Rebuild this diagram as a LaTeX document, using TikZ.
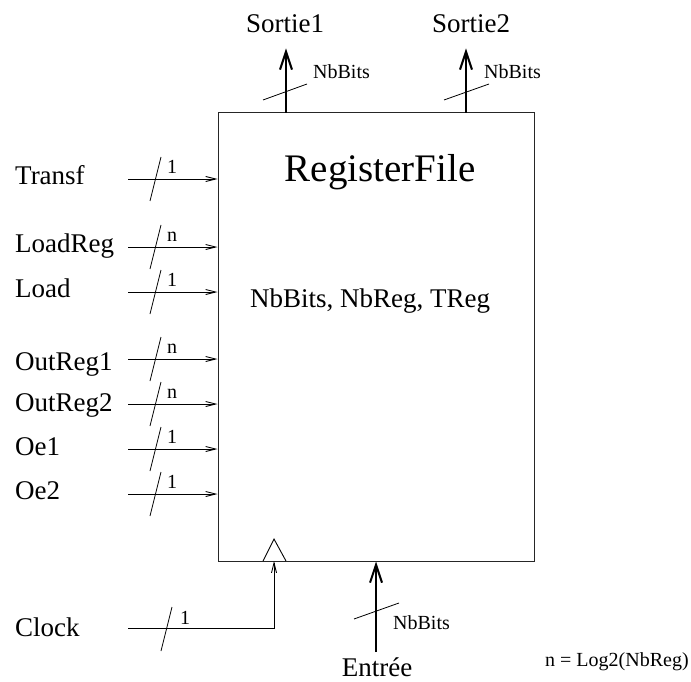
\documentclass[tikz,border=0pt]{standalone}
\usepackage{fontspec}
\setmainfont{Liberation Serif}
\usetikzlibrary{arrows.meta}

\begin{document}
\begin{tikzpicture}[x=1pt,y=-1pt,
  sig/.style={font=\fontsize{27}{30}\selectfont, inner sep=0pt},
  bits/.style={font=\fontsize{20}{22}\selectfont, inner sep=0pt},
  wide/.style={font=\fontsize{20}{22}\selectfont, inner sep=0pt},
  thin/.style={line width=0.9pt,-{Straight Barb[length=10pt,width=5pt]}},
  bus/.style={line width=2pt,-{Straight Barb[length=18pt,width=12pt]}},
  cut/.style={line width=0.8pt}]
  \useasboundingbox (0,0) rectangle (691,682);
  \node[draw=black!85, line width=1pt, minimum width=316pt, minimum height=448pt, inner sep=0pt] (rf) at (376,337) {};
  \node[font=\fontsize{39}{42}\selectfont, inner sep=0pt, anchor=base] (title) at (380,182) {RegisterFile};
  \node[sig, anchor=base west] (params) at (250,307) {NbBits, NbReg, TReg};

  \foreach \name/\txt/\y/\b/\w in {transf/Transf/179/185/1, loadreg/LoadReg/247/252/n, load/Load/292/297/1, outreg1/OutReg1/359/370/n, outreg2/OutReg2/404/411/n, oe1/Oe1/449/455/1, oe2/Oe2/494/499/1}
  {
    \node[sig, anchor=base west] (\name) at (15,\b) {\txt};
    \coordinate (\name-s) at (128,\y);
    \draw[thin] (\name-s) -- (\name-s -| rf.west);
    \draw[cut] (150,\y+22) -- (161,\y-22);
    \node[bits, anchor=base west] (\name-w) at (167,\y-5.5) {\w};
  }

  \node[sig, anchor=base west] (clock) at (15,636) {Clock};
  \coordinate (clock-s) at (128,628);
  \coordinate (clock-e) at (274,561);
  \draw[thin] (clock-s) -| (clock-e);
  \draw[cut] (161,651) -- (172,607);
  \node[bits, anchor=base west] (clock-w) at (180,624) {1};
  \draw[line width=0.9pt] (263,561) -- (274,539) -- (286,561);

  \node[sig, anchor=base] (sortie1) at (285,33) {Sortie1};
  \node[sig, anchor=base] (sortie2) at (471,33) {Sortie2};
  \coordinate (o1) at (286,113);
  \coordinate (o2) at (466,113);
  \coordinate (o1-t) at ([yshift=-15pt]sortie1.south);
  \coordinate (o2-t) at ([yshift=-15pt]sortie2.south);
  \draw[bus] (o1) -- (o1 |- o1-t);
  \draw[bus] (o2) -- (o2 |- o2-t);
  \draw[cut] (263,100) -- (307,84);
  \draw[cut] (444,100) -- (489,84);
  \node[wide, anchor=base west] (o1-w) at (313,79) {NbBits};
  \node[wide, anchor=base west] (o2-w) at (484,79) {NbBits};

  \node[sig, anchor=base] (entree) at (377,676) {Entrée};
  \coordinate (in-s) at (376,652);
  \draw[bus] (in-s) -- (rf.south);
  \draw[cut] (354,619) -- (399,603);
  \node[wide, anchor=base west] (in-w) at (393,629) {NbBits};

  \node[wide, anchor=base west] (note) at (545,666) {n = Log2(NbReg)};
\end{tikzpicture}
\end{document}
